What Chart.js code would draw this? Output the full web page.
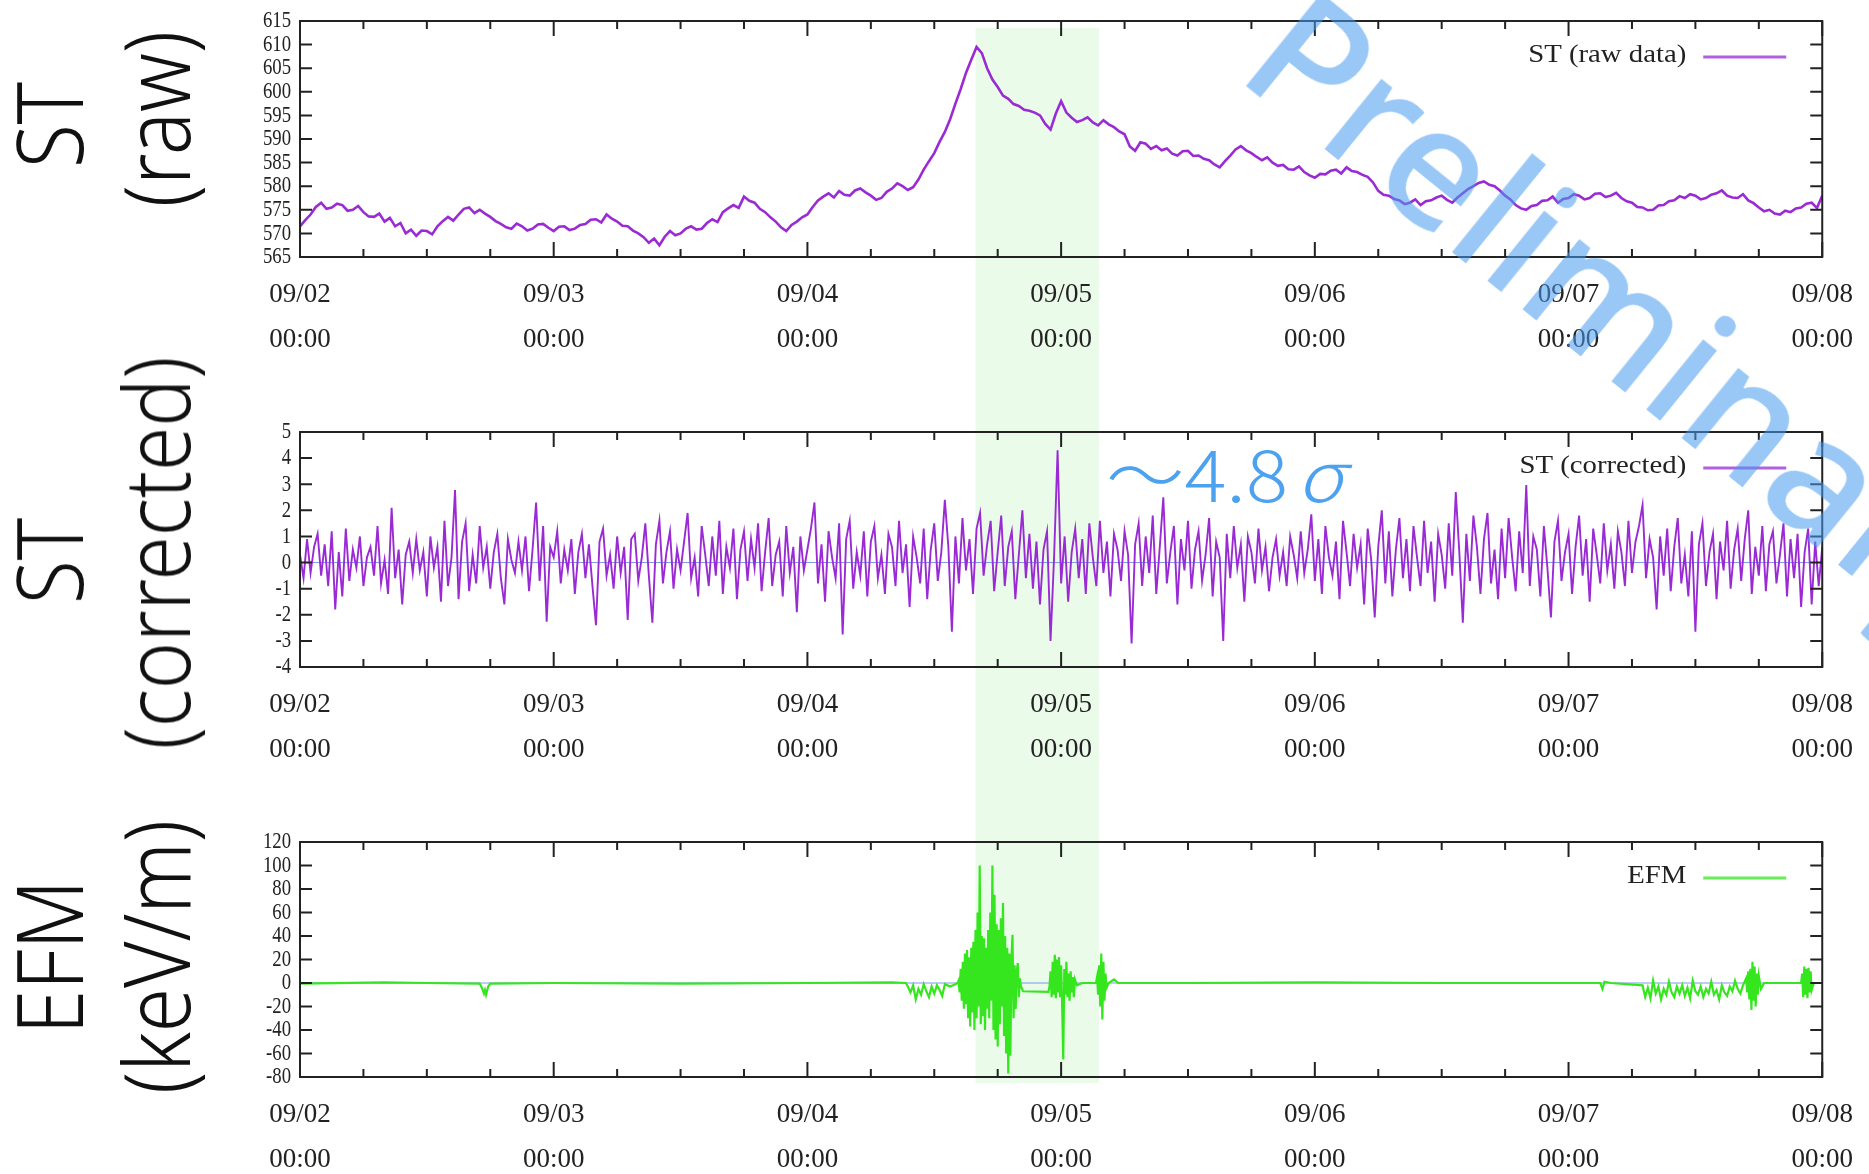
<!DOCTYPE html>
<html>
<head>
<meta charset="utf-8">
<script src="https://cdn.jsdelivr.net/npm/chart.js@4.4.1/dist/chart.umd.min.js"></script>
<style>
  html, body { margin: 0; padding: 0; background: #fff; }
  body { width: 1869px; height: 1174px; position: relative; overflow: hidden; }
  canvas { position: absolute; left: 0; }
  .side {
    position: absolute; font-family: 'Noto Sans', sans-serif; font-weight: 300;
    font-size: 92px; line-height: 1; white-space: nowrap; color: #111;
    transform: translate(-50%, -50%) rotate(-90deg) scaleX(0.87);
  }
  #sigma {
    position: absolute; left: 1106px; top: 437px; font-family: 'Noto Sans CJK JP', sans-serif;
    font-weight: 300; font-size: 70px; line-height: 1; color: #4ca2ef; white-space: nowrap;
    transform-origin: left top; transform: scaleX(1.12);
  }
  #sigma span { font-style: italic; margin-left: 8px; }
  #prelim {
    position: absolute; left: 1328px; top: -40px; font-family: 'Noto Sans', sans-serif;
    font-weight: 500; font-size: 168px; line-height: 1; color: rgba(70, 155, 240, 0.55);
    white-space: nowrap; transform-origin: 0 0; transform: rotate(39deg); pointer-events: none;
  }
</style>
</head>
<body>
<canvas id="rawChart" width="1869" height="390" style="top:0"></canvas>
<canvas id="corrChart" width="1869" height="400" style="top:390px"></canvas>
<canvas id="efmChart" width="1869" height="384" style="top:790px"></canvas>

<div class="side" style="left:48px;top:125px">ST</div>
<div class="side" style="left:155px;top:119px">(raw)</div>
<div class="side" style="left:48px;top:561px">ST</div>
<div class="side" style="left:155px;top:553px">(corrected)</div>
<div class="side" style="left:48px;top:957px">EFM</div>
<div class="side" style="left:155px;top:957px">(keV/m)</div>

<div id="sigma">〜4.8<span>σ</span></div>
<div id="prelim">Preliminary</div>

<script>
// x axis is hours since 09/02 00:00
const dayLabels = ['09/02', '09/03', '09/04', '09/05', '09/06', '09/07', '09/08'];
const hourLabel = '00:00';
const bandStart = 63.9;   // shaded window, hours
const bandEnd = 75.6;

// ST raw, every 30 min
const rawStep = 0.5;
const stRaw = [
  571.5, 572.8, 574, 575.6, 576.5, 575.2, 575.5, 576.3, 576, 574.8, 575, 575.8,
  574.5, 573.6, 573.5, 574.2, 572.5, 573.3, 571.5, 572.2, 570, 570.8, 569.5, 570.6,
  570.5, 569.8, 571.5, 572.6, 573.5, 572.7, 574, 575.2, 575.5, 574.3, 575, 574.2,
  573.5, 572.6, 572, 571.3, 571, 572.1, 571.5, 570.6, 571, 571.9, 572, 571.2,
  570.5, 571.4, 571.5, 570.7, 571, 571.8, 572, 572.9, 573, 572.3, 574, 573.1,
  572.5, 571.6, 571.5, 570.6, 570, 569.2, 568, 568.9, 567.5, 569.3, 570.5, 569.6,
  570, 571, 571.5, 570.8, 571, 572.2, 573, 572.4, 574.5, 575.3, 576, 575.4,
  577.8, 576.9, 576.5, 575.2, 574.5, 573.4, 572.5, 571.3, 570.5, 571.8, 572.5, 573.4,
  574, 575.6, 577, 577.8, 578.5, 577.6, 579, 578.2, 578, 579.1, 579.5, 578.7,
  578, 577.1, 577.5, 578.8, 579.5, 580.6, 580, 579.2, 579.8, 581.4, 583.5, 585.3,
  587, 589.4, 591.5, 594.2, 597.5, 600.6, 604, 606.8, 609.5, 608.2, 605, 602.6,
  601, 599.2, 598.5, 597.4, 597, 596.2, 596, 595.6, 595, 593.2, 592, 595.4,
  598, 595.6, 594.5, 593.6, 594, 594.6, 593.5, 592.9, 594, 593.1, 592.5, 591.6,
  591, 588.4, 587.5, 589.3, 589, 587.9, 588.5, 587.6, 588, 586.9, 586.5, 587.4,
  587.5, 586.4, 586.5, 585.8, 585.5, 584.6, 584, 585.3, 586.5, 587.8, 588.5, 587.6,
  587, 586.2, 585.5, 586.1, 585, 584.3, 584.5, 583.6, 583.5, 584.2, 583, 582.3,
  581.8, 582.6, 582.5, 583.3, 583.5, 582.7, 584, 583.2, 583, 582.4, 582, 580.8,
  579, 578.2, 578, 577.3, 577, 576.2, 576.5, 577.2, 576, 576.8, 577, 577.6,
  578, 577.1, 576.5, 577.6, 578.5, 579.4, 580, 580.7, 581, 580.3, 580, 579.1,
  578, 577.2, 576, 575.3, 575, 575.8, 576, 576.9, 577, 577.8, 576.5, 577.3,
  577.5, 578.3, 578, 577.2, 577.5, 578.4, 578.5, 577.7, 578, 578.6, 577.5, 576.8,
  576.5, 575.6, 575.5, 574.9, 575, 575.9, 576, 576.8, 577, 577.9, 577.5, 578.3,
  578, 577.2, 577.5, 578.2, 578.5, 579.1, 578, 577.6, 577.5, 578.3, 577, 576.4,
  575.5, 574.7, 575, 574.2, 574, 574.8, 574.5, 575.3, 575.5, 576.3, 576.5, 575.4,
  578
];

// ST corrected, every 20 min
const corrStep = 1 / 3;
const stCorrected = [
  0.3, -0.6, 0.9, -0.4, 0.6, 1.1, -0.5, 0.7, -0.9, 1.2, -1.8, 0.4, -1.3, 1.3, -0.7, 0.5, -0.2, 1.0,
  -0.9, 0.2, 0.6, -0.5, 1.4, -0.8, 0.1, -1.2, 2.1, -0.6, 0.5, -1.6, 0.3, 0.8, -0.4, 0.9, -0.3, 0.4,
  -1.3, 1.0, -0.2, 0.6, -1.5, 1.6, -0.9, 0.2, 2.78, -1.4, 0.8, 1.5, -1.1, 0.3, -0.8, 1.4, -0.2, 0.6,
  -1.0, 0.4, 1.1, -0.6, -1.6, 0.9, 0.1, -0.4, 0.8, -0.3, 1.0, -1.1, 0.5, 2.3, -0.7, 1.4, -2.27, 0.6,
  0.2, 1.2, -0.8, 0.5, -0.3, 0.9, -1.2, 0.4, 1.1, -0.6, 0.7, -0.9, -2.4, 0.8, 1.3, -0.5, 0.3, -1.0,
  1.0, -0.4, 0.6, -2.2, 0.9, 1.1, -0.7, 0.2, 1.5, -0.5, -2.3, 0.7, 1.6, -0.8, 0.4, 1.2, -1.0, 0.5,
  -0.3, 0.8, 1.9, -0.6, 0.2, -1.3, 1.4, 0.3, -0.9, 1.0, -0.5, 1.6, -1.2, 0.6, -0.2, 1.3, -1.4, 0.5,
  1.2, -0.7, 0.9, -0.2, 1.5, -1.1, 0.4, 1.7, -0.9, 0.3, 0.8, -1.3, 1.4, -0.4, 0.6, -1.9, 1.0, -0.3,
  0.5, 1.3, 2.3, -0.8, 0.7, -1.5, 1.2, 0.2, -0.6, 1.5, -2.75, 0.9, 1.6, -1.0, 0.4, -0.5, 1.2, -1.3,
  0.8, 1.4, -0.6, 0.3, -1.2, 1.1, 0.6, -0.9, 1.6, -0.4, 0.7, -1.7, 1.0, 0.2, -0.8, 1.3, -1.4, 0.5,
  1.5, -0.7, 0.4, 2.4, 0.6, -2.65, 1.0, -0.8, 1.7, -0.3, 0.9, -1.2, 1.3, 1.9, -0.5, 0.7, 1.6, -1.1,
  0.4, 1.8, -0.9, 0.6, 1.2, -1.4, 0.3, 2.0, -0.6, 1.1, -1.0, 0.8, -1.6, 0.5, 1.2, -3.0, 0.2, 4.3,
  -0.8, 1.0, -1.5, 0.4, 1.3, -0.6, 0.9, -1.2, 1.5, 0.2, -0.9, 1.6, -0.4, 0.8, -1.3, 1.1, 0.5, -0.7,
  1.2, 0.3, -3.1, 0.7, 1.5, -0.9, 1.0, -0.4, 1.8, -1.2, 0.6, 2.5, -0.8, 0.4, 1.4, -1.6, 0.9, -0.3,
  1.6, -1.0, 0.5, 1.2, -0.7, 0.3, 1.7, -1.3, 0.8, 0.2, -3.0, 1.1, -0.6, 1.4, -0.2, 0.7, -1.5, 1.0,
  0.4, -0.8, 1.3, -0.3, 0.6, -1.1, 0.2, 0.9, -0.5, 0.4, -0.9, 1.0, 0.3, -0.6, 1.2, -0.4, 0.5, 1.85,
  -0.7, 0.9, -1.2, 1.4, 0.2, -0.5, 0.8, -1.4, 1.6, 0.4, -0.9, 1.1, -0.2, 0.7, -1.6, 1.3, 0.1, -2.1,
  0.6, 2.0, -0.8, 1.2, -1.3, 0.5, 1.7, -0.6, 0.9, -1.1, 1.4, 0.2, -0.9, 1.6, -0.4, 0.8, -1.5, 1.1,
  0.3, -1.0, 1.5, -0.5, 2.7, 0.4, -2.3, 1.1, -0.7, 1.8, 0.6, -1.2, 0.9, 1.9, -0.8, 0.5, -1.4, 1.3,
  -0.6, 1.7, 0.2, -1.1, 1.2, -0.4, 2.97, -0.9, 1.0, 0.5, -1.3, 1.4, -0.2, -2.1, 0.8, 1.6, -0.7, 0.4,
  1.1, -1.2, 0.6, 1.8, -0.5, 0.9, -1.5, 1.3, 0.3, -0.8, 1.5, -0.3, 0.7, -1.0, 1.2, 0.4, -0.9, 1.6,
  -0.4, 0.8, 1.4, 2.2, -0.6, 0.9, 0.2, -1.8, 1.0, -0.5, 1.3, -1.1, 0.6, 1.7, -0.8, 0.3, -1.3, 1.2,
  -2.65, 0.7, 1.5, -0.9, 0.4, 1.1, -1.4, 0.8, -0.3, 1.6, -1.0, 0.5, 1.3, -0.7, 0.9, 2.0, -1.2, 0.6,
  -0.5, 1.4, -1.1, 0.7, 1.2, -0.8, 0.3, 1.5, -1.3, 0.9, -0.6, 1.1, -1.7, 0.4, 1.3, -1.6, 0.8, -0.9,
  0.6
];

// EFM, irregular sampling: dense only where the field is active
const efmTime = [
  0, 8, 12, 17.0, 17.2, 17.4, 17.5, 17.6, 17.8, 18.0,
  24, 36, 48, 56, 57.3,
  57.5, 57.75, 58, 58.25, 58.5, 58.75, 59, 59.25, 59.5, 59.75,
  60, 60.25, 60.5, 60.75, 61, 61.5, 62, 62.2,
  62.3, 62.4, 62.5, 62.6, 62.7, 62.8, 62.9, 63.0, 63.1, 63.2,
  63.3, 63.4, 63.5, 63.6, 63.7, 63.8, 63.9, 64.0, 64.1, 64.2,
  64.3, 64.4, 64.5, 64.6, 64.7, 64.8, 64.9, 65.0, 65.1, 65.2,
  65.3, 65.4, 65.5, 65.6, 65.7, 65.8, 65.9, 66.0, 66.1, 66.2,
  66.3, 66.4, 66.5, 66.6, 66.7, 66.8, 66.9, 67.0, 67.1, 67.2,
  67.3, 67.4, 67.5, 67.6, 67.7, 67.8, 67.9, 68.0, 68.1, 68.2,
  68.4, 70.8,
  70.9, 71.0, 71.1, 71.2, 71.3, 71.4, 71.5, 71.6, 71.7, 71.8,
  71.9, 72.0, 72.1, 72.2, 72.3, 72.4, 72.5, 72.6, 72.7, 72.8,
  72.9, 73.0, 73.1, 73.2, 73.3, 73.5, 74.0, 75.3,
  75.4, 75.5, 75.6, 75.7, 75.8, 75.9, 76.0, 76.1, 76.2, 76.3,
  76.5, 77.0, 77.4, 84, 96, 108, 118, 123,
  123.2, 123.4, 124,
  127.0, 127.25, 127.5, 127.75, 128.0, 128.25, 128.5, 128.75, 129.0, 129.25,
  129.5, 129.75, 130.0, 130.25, 130.5, 130.75, 131.0, 131.25, 131.5, 131.75,
  132.0, 132.25, 132.5, 132.75, 133.0, 133.25, 133.5, 133.75, 134.0, 134.25,
  134.5, 134.75, 135.0, 135.25, 135.5, 135.75, 136.0, 136.25, 136.5,
  136.8, 136.9, 137.0, 137.1, 137.2, 137.3, 137.4, 137.5, 137.6, 137.7,
  137.8, 137.9, 138.0, 138.2, 138.5, 140, 142.0,
  142.1, 142.2, 142.3, 142.4, 142.5, 142.6, 142.7, 142.8, 142.9, 143.0, 143.2, 144
];
const efmValue = [
  -0.5, 0.5, 0, -0.5, -4, -9, -6, -10, -3, -0.5,
  0, -0.5, 0, 0.5, 0,
  -3, -8, -2, -14, -5, -10, -1, -7, -12, -3,
  -9, -2, -6, -11, -1, -3, -1, 0,
  2, -8, 12, -15, 18, -22, 25, -18, 28, -30,
  22, -37, 30, -25, 35, -40, 45, -30, 60, -20,
  100, -35, 40, -28, 38, -40, 30, -22, 45, -30,
  60, -15, 100, -40, 75, -48, 50, -54, 45, -35,
  55, -20, 68, -45, 40, -60, 30, -77, 25, -62,
  20, 41, -30, 15, -22, 10, 17, -12, 4, -3,
  -7, -7.5,
  -3, 10, -12, 18, -10, 24, -13, 20, -8, 22,
  -12, 15, -20, -65, 12, -10, 18, -12, 8, -15,
  10, -8, 5, -12, 3, -2, 0, 0,
  5, -10, 15, -20, 25, -31, 18, -15, 8, -4,
  0, 3, 0, 0, 0.5, 0, 0, 0,
  -5, 1, 0,
  -2, -12, -4, -13, 2, -9, -3, -14, -5, -10,
  1, -8, -12, -3, -9, -2, -11, -4, -13, 2,
  -7, -10, -3, -12, -5, -9, 1, -10, -6, -14,
  -2, -8, -11, -3, -7, 2, -5, -9, -2,
  4, -8, 10, -14, 12, -23, 18, -15, 14, -20,
  8, -10, 6, -5, 0, 0, 0,
  8, -12, 14, -10, 12, -13, 13, -8, 10, -6, 0, 0
];

const purple = '#9a2bd4';
const green = '#35e61f';

// gnuplot-like frame: inward ticks on all four sides, narrow y labels, legend in the corner
const framePlugin = {
  id: 'frame',
  beforeDraw(chart, args, opts) {
    const { ctx, chartArea: a, scales: { x, y } } = chart;
    const x0 = x.getPixelForValue(bandStart);
    const x1 = x.getPixelForValue(bandEnd);
    const top = opts.bandTop === 'area' ? a.top + 7 : 0;
    const bottom = opts.bandBottom === 'area' ? a.bottom + 6 : chart.height;
    ctx.save();
    ctx.fillStyle = '#ebfbea';
    ctx.fillRect(x0, top, x1 - x0, bottom - top);
    if (opts.zeroLine) {
      const y0 = y.getPixelForValue(0);
      ctx.strokeStyle = 'rgba(80, 120, 230, 0.75)';
      ctx.lineWidth = 1;
      ctx.beginPath();
      ctx.moveTo(a.left, y0);
      ctx.lineTo(a.right, y0);
      ctx.stroke();
    }
    ctx.restore();
  },
  afterDatasetsDraw(chart) {
    const { ctx, chartArea: a, scales: { x, y } } = chart;
    ctx.save();
    ctx.strokeStyle = '#222';
    ctx.lineWidth = 2;
    ctx.strokeRect(a.left, a.top, a.right - a.left, a.bottom - a.top);

    ctx.beginPath();
    x.ticks.forEach(t => {
      const px = x.getPixelForValue(t.value);
      const len = t.value % 24 === 0 ? 15 : 8;
      ctx.moveTo(px, a.top);
      ctx.lineTo(px, a.top + len);
      ctx.moveTo(px, a.bottom);
      ctx.lineTo(px, a.bottom - len);
    });
    y.ticks.forEach(t => {
      const py = y.getPixelForValue(t.value);
      ctx.moveTo(a.left, py);
      ctx.lineTo(a.left + 12, py);
      ctx.moveTo(a.right, py);
      ctx.lineTo(a.right - 12, py);
    });
    ctx.stroke();

    ctx.fillStyle = '#222';
    ctx.font = '24px "Liberation Serif"';
    ctx.textAlign = 'right';
    ctx.textBaseline = 'middle';
    y.ticks.forEach(t => {
      ctx.save();
      ctx.translate(a.left - 9, y.getPixelForValue(t.value));
      ctx.scale(0.78, 1);
      ctx.fillText(String(t.value), 0, 0);
      ctx.restore();
    });

    // legend: label first, then a line sample
    const ds = chart.data.datasets[0];
    ctx.font = '25px "Liberation Serif"';
    ctx.save();
    ctx.translate(a.right - 136, a.top + 34);
    ctx.scale(1.15, 1);
    ctx.fillText(ds.label, 0, 0);
    ctx.restore();
    ctx.strokeStyle = ds.borderColor;
    ctx.globalAlpha = 0.75;
    ctx.lineWidth = 3;
    ctx.beginPath();
    ctx.moveTo(a.right - 119, a.top + 36);
    ctx.lineTo(a.right - 36, a.top + 36);
    ctx.stroke();
    ctx.restore();
  }
};

function makeChart(id, dataset, yRange, padTop, axisHeight, frameOpts) {
  return new Chart(document.getElementById(id), {
    type: 'line',
    data: { datasets: [dataset] },
    options: {
      responsive: false,
      animation: false,
      layout: { padding: { top: padTop, right: 45, left: 0, bottom: 0 } },
      elements: { point: { radius: 0 }, line: { tension: 0 } },
      plugins: { legend: { display: false }, tooltip: { enabled: false }, frame: frameOpts },
      scales: {
        x: {
          type: 'linear', min: 0, max: 144,
          grid: { display: false, drawTicks: false },
          border: { display: false },
          ticks: {
            stepSize: 6, autoSkip: false, maxRotation: 0, padding: 16, color: '#222',
            font: { family: 'Liberation Serif', size: 27, lineHeight: 1.65 },
            callback: v => (v % 24 === 0 ? [dayLabels[v / 24], hourLabel] : '')
          },
          afterFit: s => { s.height = axisHeight; }
        },
        y: {
          min: yRange[0], max: yRange[1],
          grid: { display: false, drawTicks: false },
          border: { display: false },
          ticks: { stepSize: yRange[2], display: false },
          afterFit: s => { s.width = 300; }
        }
      }
    },
    plugins: [framePlugin]
  });
}

makeChart('rawChart', {
  label: 'ST (raw data)',
  data: stRaw.map((v, i) => ({ x: i * rawStep, y: v })),
  borderColor: purple, borderWidth: 2.6
}, [565, 615, 5], 21, 133, { bandTop: 'area' });

makeChart('corrChart', {
  label: 'ST (corrected)',
  data: stCorrected.map((v, i) => ({ x: i * corrStep, y: v })),
  borderColor: purple, borderWidth: 1.9
}, [-4, 5, 1], 42, 123, { zeroLine: true });

makeChart('efmChart', {
  label: 'EFM',
  data: efmTime.map((t, i) => ({ x: t, y: efmValue[i] })),
  borderColor: green, borderWidth: 2.2
}, [-80, 120, 20], 52, 97, { bandBottom: 'area', zeroLine: true });
</script>
</body>
</html>
